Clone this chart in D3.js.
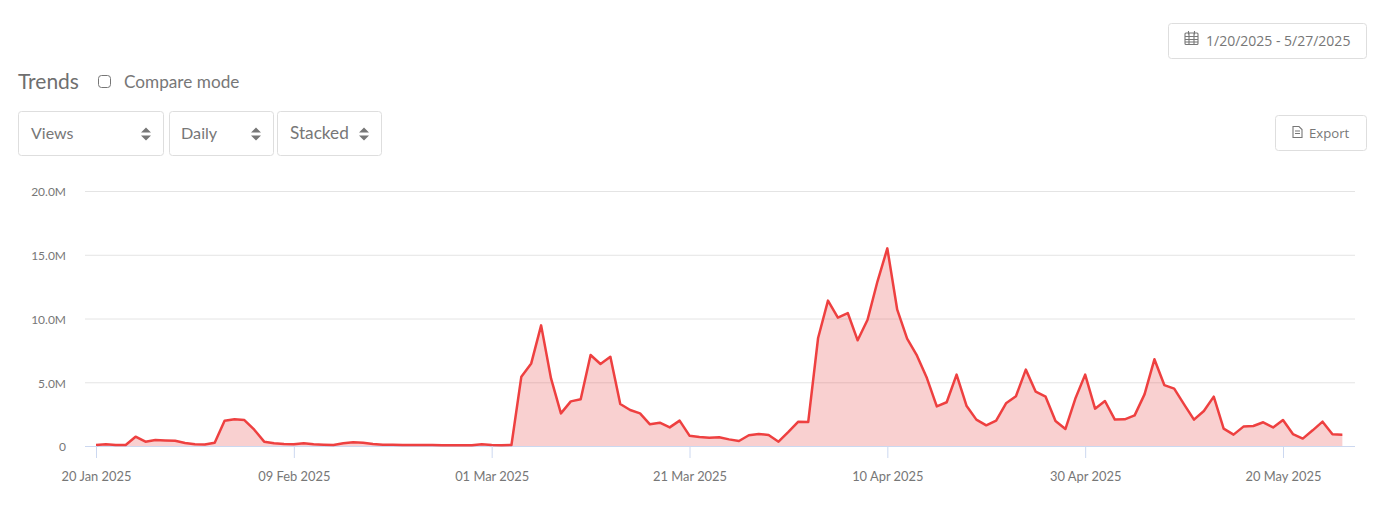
<!DOCTYPE html>
<html><head><meta charset="utf-8">
<script src="https://cdn.jsdelivr.net/npm/d3@7/dist/d3.min.js"></script>
<style>
html,body{margin:0;padding:0;background:#fff;overflow:hidden}
svg{display:block}
text{font-family:Lato,"Noto Sans",sans-serif}
</style></head><body><svg id="c" width="1384" height="526"></svg>
<script>
const startDate = "2025-01-20";
const viewsM = [0.08,0.13,0.07,0.08,0.73,0.34,0.47,0.44,0.41,0.24,0.13,0.12,0.26,1.98,2.09,2.03,1.28,0.34,0.21,0.16,
0.13,0.21,0.13,0.10,0.08,0.21,0.29,0.26,0.16,0.10,0.09,0.08,0.07,0.07,0.07,0.06,0.06,0.06,0.05,0.13,
0.07,0.05,0.08,5.44,6.48,9.46,5.30,2.56,3.50,3.66,7.14,6.43,7.00,3.29,2.82,2.56,1.70,1.83,1.46,1.99,
0.81,0.71,0.65,0.68,0.52,0.39,0.84,0.94,0.86,0.34,1.10,1.91,1.88,8.47,11.4,10.07,10.43,8.29,9.90,12.9,
15.5,10.69,8.42,7.08,5.33,3.11,3.43,5.60,3.16,2.07,1.62,1.99,3.35,3.90,5.99,4.26,3.87,1.96,1.33,3.70,
5.60,2.93,3.53,2.07,2.09,2.40,4.05,6.80,4.78,4.50,3.27,2.07,2.75,3.87,1.36,0.89,1.52,1.57,1.86,1.46,
2.04,0.94,0.58,1.23,1.91,0.92,0.89];
const xTickDates = ["2025-01-20","2025-02-09","2025-03-01","2025-03-21","2025-04-10","2025-04-30","2025-05-20"];
const yTicksM = [0,5,10,15,20];
const selectLabels = ["Views","Daily","Stacked"];
const titleLabel = "Trends";
const compareLabel = "Compare mode";
const dateRangeLabel = "1/20/2025 - 5/27/2025";
const exportLabel = "Export";

const svg = d3.select("#c");
const start = new Date(startDate+"T00:00:00Z");
const data = viewsM.map((v,i)=>({d:d3.utcDay.offset(start,i),v}));
const x = d3.scaleUtc().domain([start,new Date("2025-05-20T00:00:00Z")]).range([96,1283]);
const y = d3.scaleLinear().domain([0,20]).range([446,191]);
const TXT="#777777";

// grid
svg.append("g").selectAll("line").data(yTicksM).join("line")
 .attr("x1",85).attr("x2",1355).attr("y1",d=>y(d)+.5).attr("y2",d=>y(d)+.5)
 .attr("stroke",d=>d===0?"#ccd8f0":"#e4e4e4").attr("stroke-width",1);

// y labels
const yAxis = d3.axisLeft(y).tickValues(yTicksM).tickSize(0).tickPadding(0)
 .tickFormat(d=>d===0?"0":d3.format(".1f")(d)+"M");
const yg = svg.append("g").attr("transform","translate(66,1)").call(yAxis);
yg.select(".domain").remove();
yg.selectAll("text").attr("fill",TXT).attr("font-size",12).style("font-family","Lato");

// area and line
svg.append("path").datum(data).attr("fill","#e83a3a").attr("fill-opacity",.24)
 .attr("d",d3.area().x(d=>x(d.d)).y0(y(0)).y1(d=>y(d.v)));
svg.append("path").datum(data).attr("fill","none").attr("stroke","#ee4040").attr("stroke-width",2.5)
 .attr("stroke-linejoin","round")
 .attr("d",d3.line().x(d=>x(d.d)).y(d=>y(d.v)));

// x axis
const xAxis = d3.axisBottom(x).tickValues(xTickDates.map(s=>new Date(s+"T00:00:00Z")))
 .tickSize(12).tickPadding(14).tickFormat(d3.utcFormat("%d %b %Y"));
const xg = svg.append("g").attr("transform","translate(0,446)").call(xAxis);
xg.select(".domain").remove();
xg.selectAll("line").attr("stroke","#ccd8f0");
xg.selectAll("text").attr("fill",TXT).attr("font-size",12.9).style("font-family","Lato");

// controls
function box(bx,by,w,h){svg.append("rect").attr("x",bx+.5).attr("y",by+.5).attr("width",w-1).attr("height",h-1)
 .attr("rx",3).attr("fill","#fff").attr("stroke","#dedede");}
function label(t,tx,ty,size,font,fill){return svg.append("text").text(t).attr("x",tx).attr("y",ty)
 .attr("font-size",size).attr("fill",fill||TXT).style("font-family",font||"Lato");}
function updown(cx,cy){svg.append("path").attr("fill","#777")
 .attr("d",`M${cx-5},${cy-1.5}L${cx},${cy-6.5}L${cx+5},${cy-1.5}ZM${cx-5},${cy+1.5}L${cx},${cy+6.5}L${cx+5},${cy+1.5}Z`);}

label(titleLabel,18,89,21,"Lato","#6f6f6f");
svg.append("rect").attr("x",98.5).attr("y",75.5).attr("width",12).attr("height",12).attr("rx",3)
 .attr("fill","#fff").attr("stroke","#767676");
label(compareLabel,124,88,17.2);

const sels=[[18,146,31,146,16],[169,105,181,256,16.2],[277,105,290,364,17.2]];
sels.forEach((s,i)=>{box(s[0],111,s[1],45);label(selectLabels[i],s[2],139,s[4],"Lato");updown(s[3],134);});

box(1168,23,199,36);
label(dateRangeLabel,1206,46,14,"Open Sans");
// calendar icon
const cal=svg.append("g").attr("fill","none").attr("stroke","#777").attr("stroke-width",1.1);
cal.append("rect").attr("x",1185).attr("y",33).attr("width",13).attr("height",11.5).attr("rx",1);
cal.append("path").attr("d","M1185,36.5H1198M1185,39.5H1198M1185,42H1198M1189,33V44.5M1194,33V44.5M1188.5,31V34.5M1194.5,31V34.5");

box(1275,115,92,36);
label(exportLabel,1309,138,13.2,"Open Sans");
svg.append("path").attr("fill","none").attr("stroke","#777").attr("stroke-width",1.1)
 .attr("d","M1293,127V137.5H1302V129.5L1299,126.5H1293ZM1295,131H1300M1295,133.5H1300");
</script></body></html>
